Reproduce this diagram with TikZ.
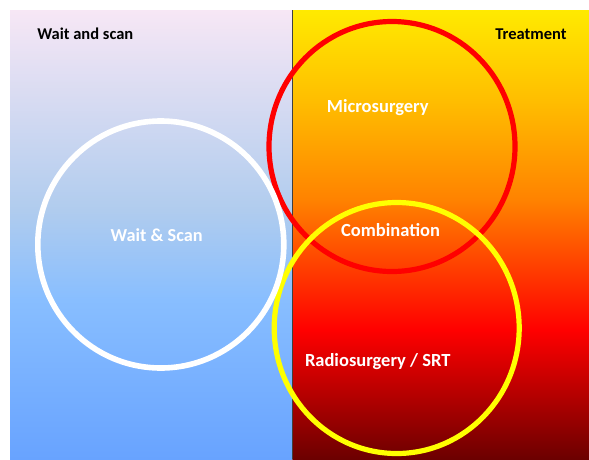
\documentclass[tikz,border=0pt]{standalone}
\usepackage{fontspec}
\setmainfont{Carlito}

\definecolor{waitTop}{RGB}{247,231,245}
\definecolor{waitMid}{RGB}{176,204,238}
\definecolor{waitLow}{RGB}{136,190,255}
\definecolor{waitBottom}{RGB}{104,163,255}
\definecolor{treatTop}{RGB}{255,234,0}
\definecolor{treatUpper}{RGB}{255,190,0}
\definecolor{treatMid}{RGB}{255,130,0}
\definecolor{treatLow}{RGB}{255,80,0}
\definecolor{treatRed}{RGB}{255,0,0}
\definecolor{treatBottom}{RGB}{108,0,0}
\definecolor{dividerColor}{RGB}{64,64,64}
\definecolor{ringRed}{RGB}{255,0,0}
\definecolor{ringYellow}{RGB}{255,255,0}

\pgfdeclareverticalshading{waitShade}{100bp}{color(0bp)=(waitBottom); color(25bp)=(waitBottom);
  color(42.7bp)=(waitLow); color(52.7bp)=(waitMid); color(75bp)=(waitTop); color(100bp)=(waitTop)}
\pgfdeclareverticalshading{treatShade}{100bp}{color(0bp)=(treatBottom); color(25bp)=(treatBottom);
  color(39.4bp)=(treatRed); color(48.3bp)=(treatLow); color(53.8bp)=(treatMid);
  color(65bp)=(treatUpper); color(75bp)=(treatTop); color(100bp)=(treatTop)}

\begin{document}
\begin{tikzpicture}[x=1pt,y=-1pt,
    title/.style={font=\fontsize{16.5}{18}\selectfont\bfseries, inner sep=0pt, anchor=base},
    label/.style={font=\fontsize{18.5}{20}\selectfont\bfseries, text=white, inner sep=0pt, anchor=base}]
  \useasboundingbox (0,0) rectangle (589,459);
  % Panels
  \shade[shading=waitShade] (10,10) rectangle (292.3,459);
  \shade[shading=treatShade] (292.3,10) rectangle (589,459);
  \draw[dividerColor, line width=1.2pt] (292.3,10) -- (292.3,459);
  % Rings
  \draw[ringRed, line width=5.2pt] (392,146.5) ellipse [x radius=123pt, y radius=125pt];
  \draw[ringYellow, line width=5.2pt] (396.7,328) ellipse [x radius=122.5pt, y radius=125.5pt];
  \draw[white, line width=5.6pt] (160.8,244.5) ellipse [x radius=123pt, y radius=123.5pt];
  % Titles
  \node[title] (waitTitle) at (85.3,39) {Wait and scan};
  \node[title] (treatTitle) at (531,39) {Treatment};
  % Labels
  \node[label] (micro) at (377.8,112) {Microsurgery};
  \node[label] (combo) at (390.5,236.7) {Combination};
  \node[label] (radio) at (377.7,366.7) {Radiosurgery / SRT};
  \node[label, font=\fontsize{18.3}{20}\selectfont\bfseries] (waitScan) at (156.7,241.7) {Wait \& Scan};
\end{tikzpicture}
\end{document}
